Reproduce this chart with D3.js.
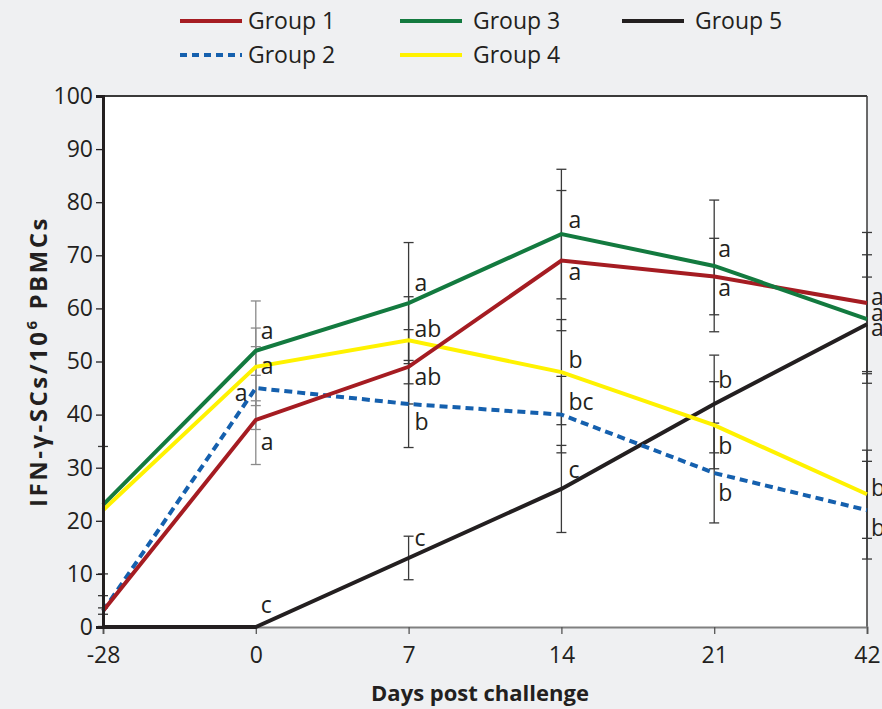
<!DOCTYPE html>
<html>
<head>
<meta charset="utf-8">
<script src="https://cdn.jsdelivr.net/npm/d3@7"></script>
<style>
  body { margin: 0; background: #eff0f2; }
  text { font-family: "Open Sans", sans-serif; fill: #231f20; }
</style>
</head>
<body>
<div id="chart"></div>
<script>
// data
var days = ["-28", "0", "7", "14", "21", "42"];
var groups = ["Group 1", "Group 2", "Group 3", "Group 4", "Group 5"];

var group1 = [3, 39, 49, 69, 66, 61];
var group2 = [3, 45, 42, 40, 29, 22];
var group3 = [23, 52, 61, 74, 68, 58];
var group4 = [22, 49, 54, 48, 38, 25];
var group5 = [0, 0, 13, 26, 42, 57];

// error bar half-widths (SD)
var err1 = [2.9, 8.4, 7.0, 13.2, 7.2, 13.3];
var err2 = [0.6, 7.8, 8.2, 7.2, 9.4, 9.2];
var err3 = [0, 9.4, 11.4, 12.2, 12.4, 12.1];
var err4 = [12, 7.3, 8.2, 9.9, 8.2, 8.3];
var err5 = [0, 0, 4.1, 8.2, 9.2, 8.9];

// significance letters
var letters1 = ["", "a", "ab", "a", "a", "a"];
var letters2 = ["", "a", "b", "bc", "b", "b"];
var letters3 = ["", "a", "a", "a", "a", "a"];
var letters4 = ["", "a", "ab", "b", "b", "b"];
var letters5 = ["", "c", "c", "c", "b", "a"];

var yTicks = [0, 10, 20, 30, 40, 50, 60, 70, 80, 90, 100];

// layout: label offsets (px) from each point
var labelDy = [
  [0, 22, 10, 11, 11, -6],
  [0, 5, 18, -13, 20, 18],
  [0, -20, -20, -14, -17, -6],
  [0, -1, -11, -12, 21, -6],
  [0, -22, -20, -19, -24, 4]
];
var labelDx = [
  [0, 5, 6, 7, 4, 4],
  [0, -21, 6, 7, 4, 4],
  [0, 5, 6, 7, 4, 4],
  [0, 5, 6, 7, 4, 4],
  [0, 5, 6, 7, 4, 4]
];

var colors = ["#a51c22", "#1560ae", "#137a3f", "#fff200", "#231f20"];
var values = [group1, group2, group3, group4, group5];
var errors = [err1, err2, err3, err4, err5];
var letters = [letters1, letters2, letters3, letters4, letters5];

var svgWidth = 882, svgHeight = 709;
var margin = { top: 96, right: 15, bottom: 82, left: 103 };
var chartWidth = svgWidth - margin.left - margin.right;
var chartHeight = svgHeight - margin.top - margin.bottom;

var svg = d3.select("#chart").append("svg")
  .attr("width", svgWidth)
  .attr("height", svgHeight);

var chartGroup = svg.append("g")
  .attr("transform", `translate(${margin.left}, ${margin.top})`);

var x = d3.scalePoint().domain(days).range([0, chartWidth]).padding(0);
var y = d3.scaleLinear().domain([0, 100]).range([chartHeight, 0]);

chartGroup.append("rect")
  .attr("width", chartWidth)
  .attr("height", chartHeight)
  .attr("fill", "#fff");

// frame top / right
chartGroup.append("line")
  .attr("x1", 0).attr("x2", chartWidth).attr("y1", 0).attr("y2", 0)
  .attr("stroke", "#3a3a3a").attr("stroke-width", 2);
chartGroup.append("line")
  .attr("x1", chartWidth).attr("x2", chartWidth).attr("y1", 0).attr("y2", chartHeight)
  .attr("stroke", "#3a3a3a").attr("stroke-width", 1.5);

// error bars
var barData = [];
values.forEach((vals, g) => {
  vals.forEach((v, i) => {
    if (errors[g][i] > 0) barData.push({ day: days[i], v: v, e: errors[g][i], i: i });
  });
});

var bars = chartGroup.append("g").selectAll("g")
  .data(barData).enter().append("g")
  .attr("stroke", d => d.i === 1 ? "#8a8a8a" : "#3a3a3a")
  .attr("stroke-width", 1.3);
bars.append("line")
  .attr("x1", d => x(d.day)).attr("x2", d => x(d.day))
  .attr("y1", d => y(d.v + d.e)).attr("y2", d => y(Math.max(0, d.v - d.e)));
bars.append("line")
  .attr("x1", d => x(d.day) - 5).attr("x2", d => x(d.day) + 5)
  .attr("y1", d => y(d.v + d.e)).attr("y2", d => y(d.v + d.e));
bars.append("line")
  .attr("x1", d => x(d.day) - 5).attr("x2", d => x(d.day) + 5)
  .attr("y1", d => y(Math.max(0, d.v - d.e))).attr("y2", d => y(Math.max(0, d.v - d.e)));

// axes
var xAxis = d3.axisBottom(x).tickSize(7).tickPadding(13);
var yAxis = d3.axisLeft(y).tickValues(yTicks).tickSize(7).tickPadding(3);

var xg = chartGroup.append("g")
  .attr("transform", `translate(0, ${chartHeight})`)
  .call(xAxis);
xg.select(".domain").attr("stroke", "#808080").attr("stroke-width", 2);
xg.selectAll(".tick line").attr("stroke", "#555").attr("stroke-width", 1.3);
xg.selectAll("text").style("font-size", "23px").attr("fill", "#231f20");

// lines
var line = d3.line()
  .x((d, i) => x(days[i]))
  .y(d => y(d));

// draw order: group5, group4, group2, group1, group3
[4, 3, 1, 0, 2].forEach(g => {
  chartGroup.append("path")
    .datum(values[g])
    .attr("fill", "none")
    .attr("stroke", colors[g])
    .attr("stroke-width", 4)
    .attr("stroke-dasharray", g === 1 ? "8,5" : null)
    .attr("d", line);
});

var yg = chartGroup.append("g").call(yAxis);
yg.select(".domain").attr("stroke", "#231f20").attr("stroke-width", 3);
yg.selectAll(".tick line").attr("stroke", "#231f20").attr("stroke-width", 1.3);
yg.selectAll("text").style("font-size", "23px").attr("fill", "#231f20");

// letters
values.forEach((vals, g) => {
  vals.forEach((v, i) => {
    if (!letters[g][i]) return;
    chartGroup.append("text")
      .attr("x", x(days[i]) + labelDx[g][i])
      .attr("y", y(v) + labelDy[g][i])
      .attr("dy", "0.35em")
      .style("font-size", "23px")
      .text(letters[g][i]);
  });
});

// axis titles
svg.append("text")
  .attr("x", margin.left + chartWidth / 2 - 5)
  .attr("y", 701)
  .attr("text-anchor", "middle")
  .style("font-size", "22px")
  .style("font-weight", "bold")
  .text("Days post challenge");

var yLabel = svg.append("text")
  .attr("transform", `translate(47, ${margin.top + chartHeight / 2 + 0}) rotate(-90)`)
  .attr("text-anchor", "middle")
  .style("font-size", "24px")
  .style("font-weight", "bold")
  .style("letter-spacing", "2.5px");
yLabel.append("tspan").text("IFN-γ-SCs/10");
yLabel.append("tspan").attr("dy", -10).style("font-size", "15px").text("6");
yLabel.append("tspan").attr("dy", 10).text(" PBMCs");

// legend
var legendPos = [[180, 21], [180, 55], [400, 21], [400, 55], [622, 21]];
var legend = svg.append("g").selectAll("g")
  .data(groups).enter().append("g")
  .attr("transform", (d, i) => `translate(${legendPos[i][0]}, ${legendPos[i][1]})`);
legend.append("line")
  .attr("x1", 0).attr("x2", 62)
  .attr("stroke", (d, i) => colors[i])
  .attr("stroke-width", 4)
  .attr("stroke-dasharray", (d, i) => i === 1 ? "7,5" : null);
legend.append("text")
  .attr("x", (d, i) => i < 2 ? 68 : 73)
  .attr("dy", "0.35em")
  .style("font-size", "23px")
  .text(d => d);
</script>
</body>
</html>
